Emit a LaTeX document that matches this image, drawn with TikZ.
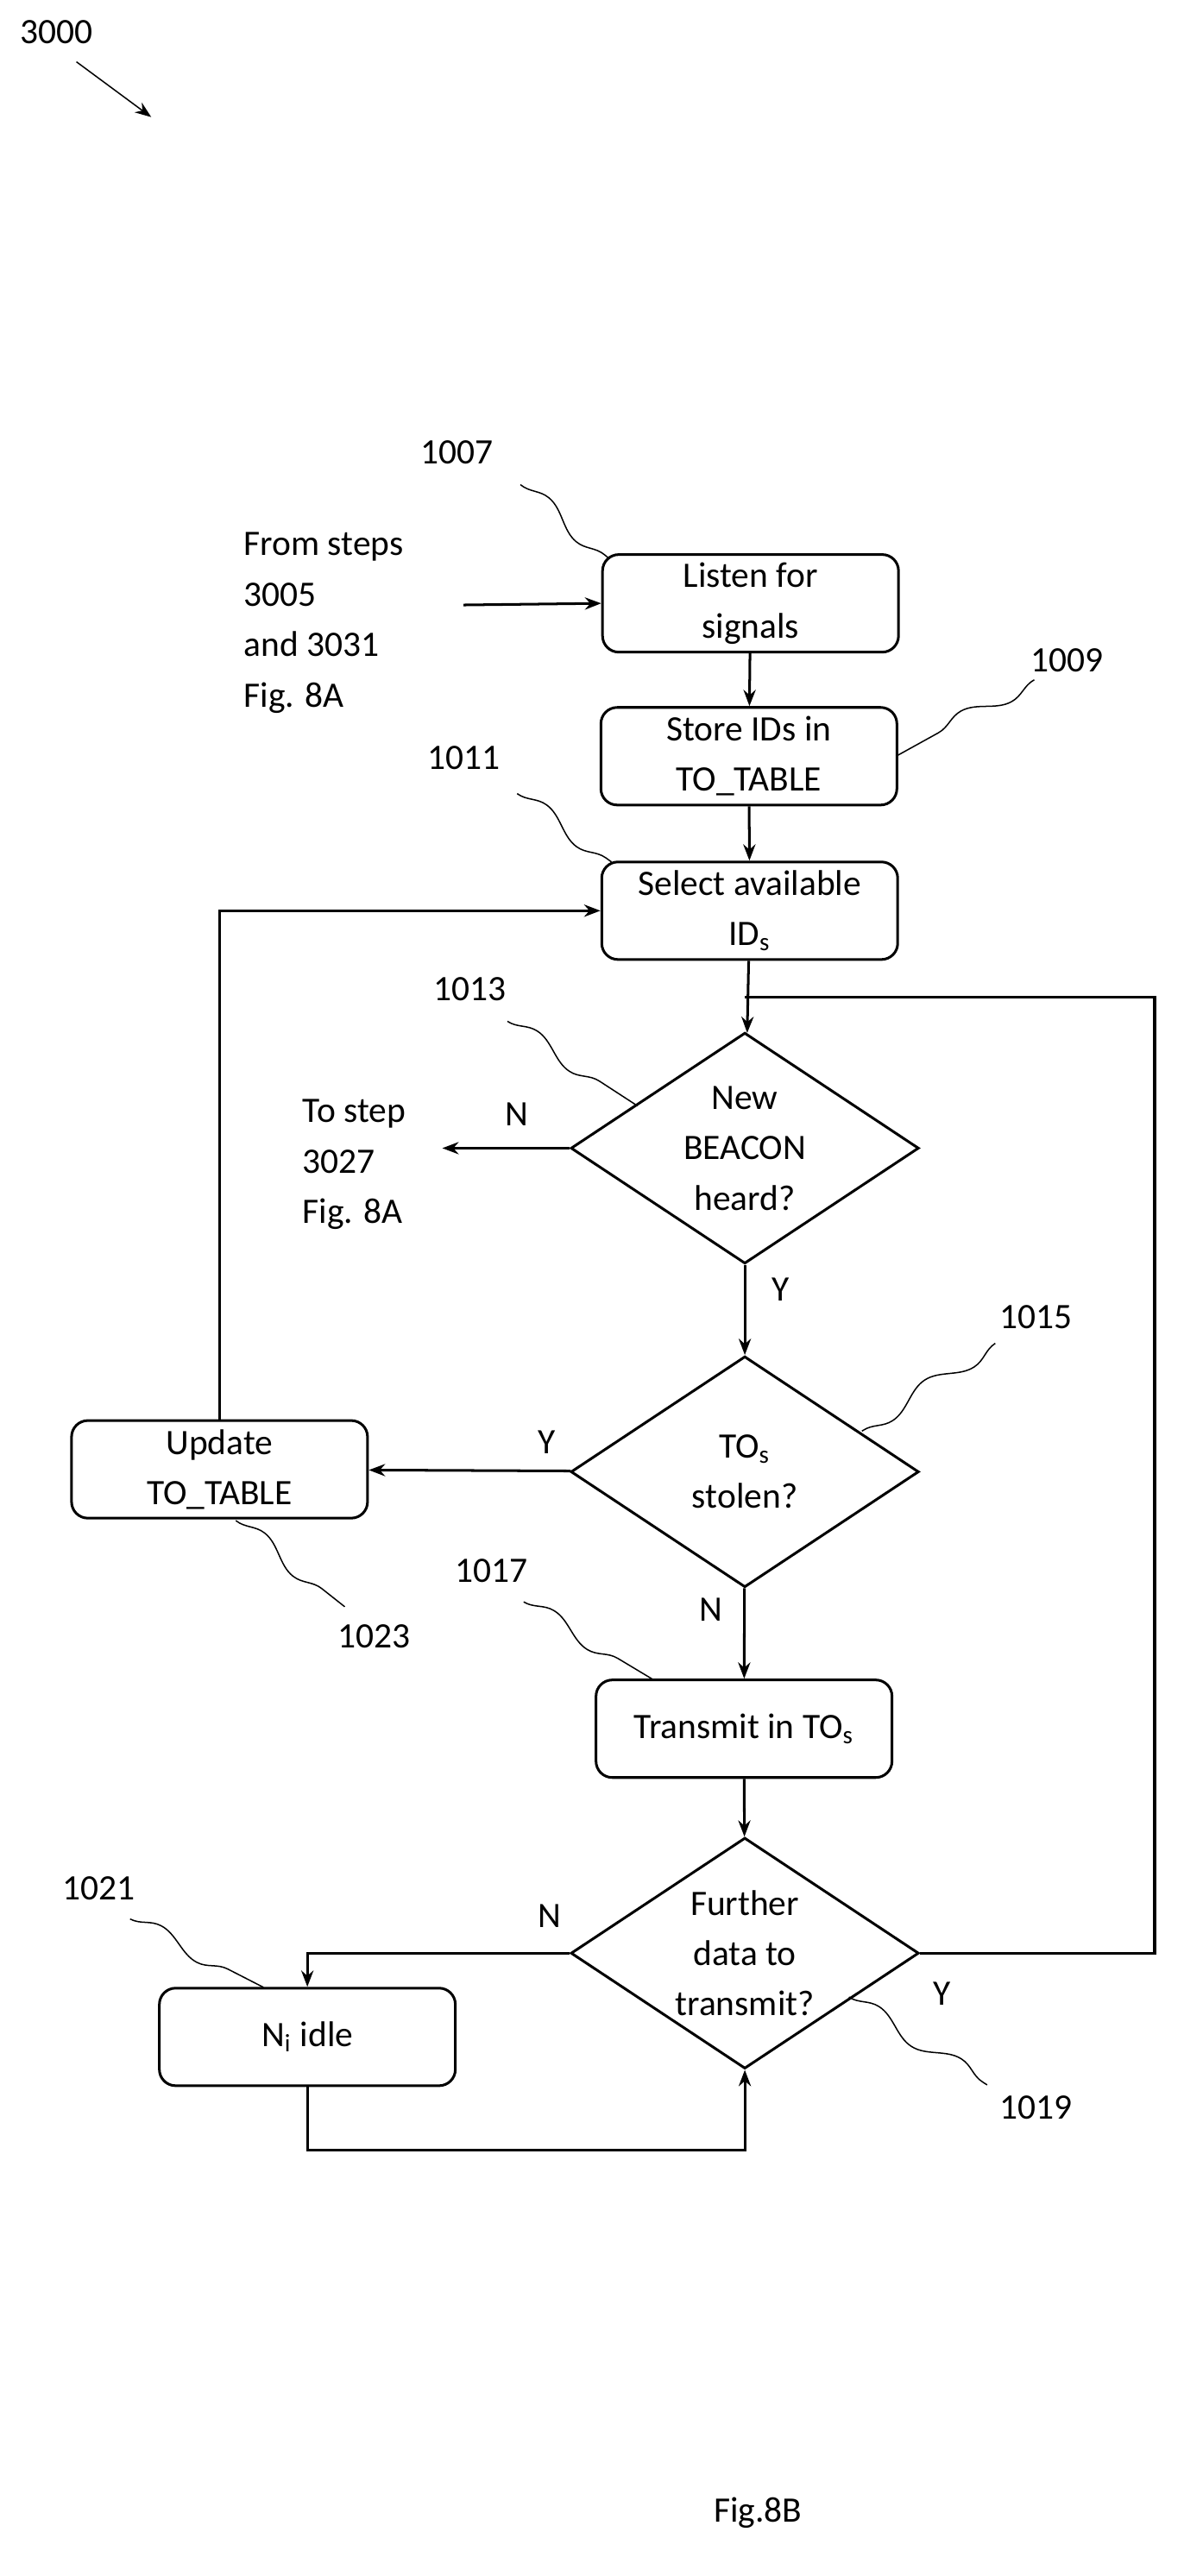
\documentclass[tikz,border=0pt]{standalone}
\usepackage{fontspec}
\setmainfont{Carlito}
\usetikzlibrary{shapes.geometric,arrows.meta,decorations.pathmorphing}
\begin{document}
\begin{tikzpicture}[x=0.5pt,y=-0.5pt,
 box/.style={draw,thick,rounded corners=5pt,minimum width=91pt,minimum height=30pt,align=center,font=\fontsize{11}{15.5}\selectfont,inner sep=1pt},
 dia/.style={draw,thick,diamond,minimum width=107pt,minimum height=71pt,aspect=1.5,align=center,font=\fontsize{11}{15.5}\selectfont,inner sep=0pt},
 lab/.style={font=\fontsize{11}{15.5}\selectfont,align=left},
 fl/.style={thick,-{Stealth[length=5pt]}},
 ln/.style={thick},
 sq/.style={thin,decorate,decoration={snake,amplitude=2.5pt,segment length=30pt}}]
\useasboundingbox (0,0) rectangle (728,1584);
\node[lab] (t3000) at (35,20) {3000};
\coordinate (a1) at (47,38); \coordinate (a2) at (93,72);
\draw[thin,-{Stealth[length=5pt]}] (a1) -- (a2);

\node[box] (b1007) at (461.5,371) {Listen for\\signals};
\node[box] (b1009) at (460.5,465) {Store IDs in\\TO\_TABLE};
\node[box] (b1011) at (461,560) {Select available\\ID\textsubscript{s}};
\node[dia] (d1013) at (458,706) {New\\BEACON\\heard?};
\node[dia] (d1015) at (458,905) {TO\textsubscript{s}\\stolen?};
\node[box] (b1023) at (135,903.5) {Update\\TO\_TABLE};
\node[box] (b1017) at (457.5,1063) {Transmit in TO\textsubscript{s}};
\node[dia] (d1019) at (458,1201) {Further\\data to\\transmit?};
\node[box] (b1021) at (189,1252.5) {N\textsubscript{i} idle};

\node[lab,anchor=west] (from) at (143,383) {From steps\\3005\\and 3031\\Fig. 8A};
\coordinate (fs) at (285,372);
\draw[fl] (fs) -- (b1007.west);
\node[lab,anchor=west] (tostep) at (179,716) {To step\\3027\\Fig. 8A};
\coordinate (te) at (272,706);
\draw[fl] (d1013.west) -- (te);

\draw[fl] (b1007) -- (b1009);
\draw[fl] (b1009) -- (b1011);
\draw[fl] (b1011) -- (d1013);
\draw[fl] (d1013) -- (d1015);
\draw[fl] (d1015) -- (b1023);
\draw[fl] (d1015) -- (b1017);
\draw[fl] (b1017) -- (d1019);
\draw[fl] (b1023.north) |- (b1011.west);
\draw[ln] (d1019.east) -- (710,1201) |- (458,613);
\draw[fl] (d1019.west) -| (b1021.north);
\draw[fl] (b1021.south) |- (458,1322) -- (d1019.south);

\node[lab] (n1) at (318,685) {N};
\node[lab] (y1) at (480,793) {Y};
\node[lab] (y2) at (336,887) {Y};
\node[lab] (n2) at (437,990) {N};
\node[lab] (n3) at (338,1178) {N};
\node[lab] (y3) at (579,1226) {Y};

\node[lab] (r1007) at (281,278) {1007};
\node[lab] (r1009) at (656,406) {1009};
\node[lab] (r1011) at (285,466) {1011};
\node[lab] (r1013) at (289,608) {1013};
\node[lab] (r1015) at (637,810) {1015};
\node[lab] (r1023) at (230,1006) {1023};
\node[lab] (r1017) at (302,966) {1017};
\node[lab] (r1021) at (61,1161) {1021};
\node[lab] (r1019) at (637,1296) {1019};
\draw[sq] (320,298) -- (374,343);
\draw[sq] (636,418) -- (551,465);
\draw[sq] (318,488) -- (376,530);
\draw[sq] (312,628) -- (392,680);
\draw[sq] (612,826) -- (530,880);
\draw[sq] (145,935) -- (212,988);
\draw[sq] (322,985) -- (402,1033);
\draw[sq] (80,1180) -- (162,1222);
\draw[sq] (522,1228) -- (607,1282);

\node[lab] (fig) at (466,1545) {Fig.8B};
\end{tikzpicture}
\end{document}
